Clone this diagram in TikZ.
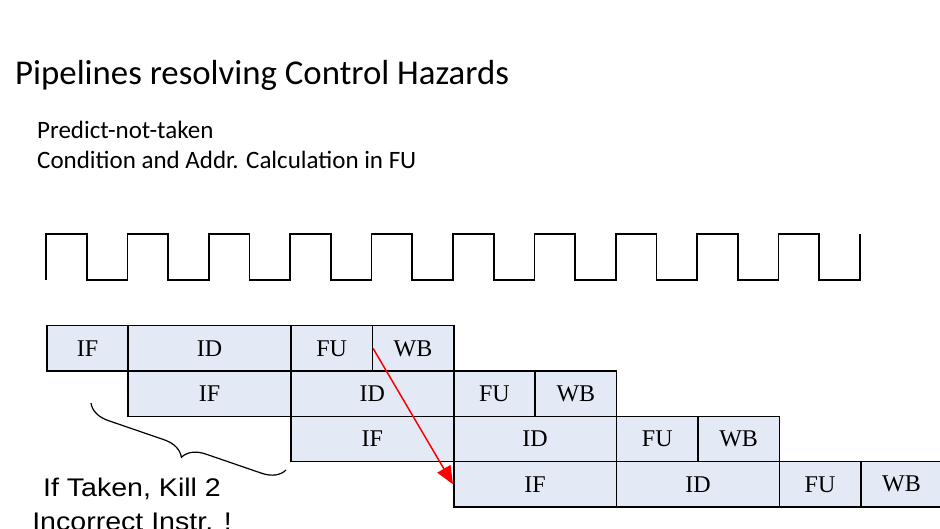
\documentclass[tikz,border=0pt]{standalone}
\usepackage{fontspec}
\setmainfont{Carlito}
\newfontfamily\stagefont{Liberation Serif}
\newfontfamily\notefont[FakeStretch=1.12]{Liberation Sans}
\usetikzlibrary{arrows.meta,decorations.pathreplacing}
\definecolor{stagefill}{HTML}{E4EAF5}
\tikzset{
  stage/.style={draw=black, line width=1.5pt, fill=stagefill, anchor=north west,
    minimum height=45.3pt, inner sep=0pt, font=\stagefont\fontsize{24}{26}\selectfont},
  one/.style={stage, minimum width=81.4pt},
  two/.style={stage, minimum width=162.8pt},
  branch/.style={red, line width=1.5pt, -{Triangle[length=18pt,width=15pt]}}
}
\begin{document}
\begin{tikzpicture}[x=1pt, y=-1pt]
        \useasboundingbox (0,0) rectangle (940,529);
        % titel
        \node[anchor=base west, inner sep=0pt, font=\fontsize{34.8}{40}\selectfont] (title) at (15,85) {Pipelines resolving Control Hazards};
        \node[anchor=base west, inner sep=0pt, font=\fontsize{25}{30}\selectfont] (pnt) at (37,139) {Predict-not-taken};
        \node[anchor=base west, inner sep=0pt, font=\fontsize{25}{30}\selectfont] (cond) at (37,169) {Condition and Addr. Calculation in FU};

        % takt
        \draw[line width=1.7pt] (46,280) -- (46,234)
          \foreach \i in {1,...,10} { -- ++(40.7,0) -- ++(0,46) -- ++(40.7,0) -- ++(0,-46) };

        % pipeline, zeile 1
        \node[one] (r1if) at (46,325) {IF};
        \node[two] (r1id) at (127.4,325) {ID};
        \node[one] (r1fu) at (290.2,325) {FU};
        \node[one] (r1wb) at (371.6,325) {WB};
        % zeile 2
        \node[two] (r2if) at (127.4,370.3) {IF};
        \node[two] (r2id) at (290.2,370.3) {ID};
        \node[one] (r2fu) at (453,370.3) {FU};
        \node[one] (r2wb) at (534.4,370.3) {WB};
        % zeile 3
        \node[two] (r3if) at (290.2,415.6) {IF};
        \node[two] (r3id) at (453,415.6) {ID};
        \node[one] (r3fu) at (615.8,415.6) {FU};
        \node[one] (r3wb) at (697.2,415.6) {WB};
        % zeile 4
        \node[two] (r4if) at (453,460.9) {IF};
        \node[two] (r4id) at (615.8,460.9) {ID};
        \node[one] (r4fu) at (778.6,460.9) {FU};
        \node[one] (r4wb) at (860,460.9) {WB};

        % sprung
        \draw[branch] (r1fu.east) -- (r4if.west);

        % klammer und text
        \coordinate (kstart) at (91,403);
        \coordinate (kend) at (286,470);
        \draw[line width=1.2pt, decorate, decoration={brace, mirror, amplitude=22pt}] (kstart) -- (kend);
        \node[anchor=north, inner sep=0pt, align=center, font=\notefont\fontsize{25.5}{34}\selectfont] (kill) at (132,478) {If Taken, Kill 2\\Incorrect Instr. !};
\end{tikzpicture}
\end{document}
